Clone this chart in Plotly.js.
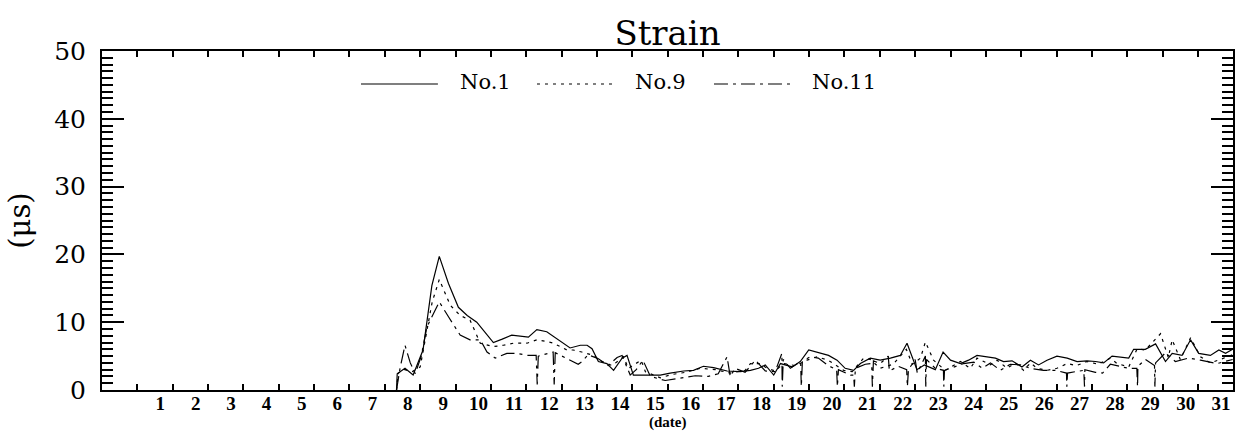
<!DOCTYPE html>
<html>
<head>
<meta charset="utf-8">
<script src="https://cdn.plot.ly/plotly-3.0.1.min.js"></script>
<style>html,body{margin:0;padding:0;background:#fff;}#chart{width:1237px;height:439px;}</style>
</head>
<body>
<div id="chart"></div>
<script>
// ---- data ----
const dayTicks = [1,2,3,4,5,6,7,8,9,10,11,12,13,14,15,16,17,18,19,20,21,22,23,24,25,26,27,28,29,30,31];
const dayLabels = ['1','2','3','4','5','6','7','8','9','10','11','12','13','14','15','16','17','18','19','20','21','22','23','24','25','26','27','28','29','30','31'];
const strainTicks = [0,10,20,30,40,50];
const strainLabels = ['0','10','20','30','40','50'];

const no1Date = [8.33,8.35,8.57,8.80,9.08,9.33,9.54,9.80,10.08,10.33,
  10.60,11.07,11.32,11.59,12.06,12.30,12.58,12.90,13.24,13.53,
  13.72,13.86,14.04,14.28,14.47,14.71,14.85,15.03,15.32,15.79,
  16.07,16.45,16.73,17.01,17.30,17.68,18.05,18.34,18.57,18.76,
  19.00,19.19,19.52,19.75,19.99,20.32,20.55,20.79,21.02,21.26,
  21.45,21.73,22.01,22.30,22.58,22.77,23.05,23.26,23.57,23.79,
  24.00,24.28,24.51,24.75,25.03,25.27,25.50,25.74,26.02,26.26,
  26.49,26.73,27.01,27.30,27.58,27.86,28.10,28.33,28.57,28.85,
  29.04,29.18,29.51,29.80,30.08,30.27,30.55,30.79,31.02,31.35,
  31.59,31.78,31.98];
const no1Strain = [0,2.4,3.2,2.2,5.9,15.4,19.7,15.7,12.2,11.0,
  10.0,7.0,7.5,8.1,7.8,8.9,8.6,7.4,6.2,6.6,
  6.6,6.1,4.2,3.9,2.9,4.7,5.1,2.2,2.2,2.2,
  2.5,2.8,2.9,3.5,3.3,2.8,2.7,2.9,3.2,3.7,
  2.2,3.9,3.4,4.2,5.9,5.4,5.1,4.4,3.2,2.9,
  3.9,4.7,4.4,4.7,5.1,6.9,3.0,3.7,3.0,5.6,
  4.4,3.9,4.4,5.1,4.9,4.7,4.2,4.3,3.4,4.4,
  3.7,4.4,5.0,4.7,4.2,4.3,4.2,4.0,5.0,4.8,
  4.7,6.0,6.0,6.8,4.2,5.4,5.1,7.4,5.4,5.1,
  5.9,5.4,6.0];

const no9Date = [8.33,8.38,8.57,8.77,9.00,9.17,9.34,9.54,9.85,10.13,
  10.41,10.70,11.07,11.35,11.64,12.02,12.30,12.54,12.77,13.15,
  13.33,13.57,13.90,14.14,14.43,14.75,14.89,15.25,15.37,15.79,
  16.13,16.50,16.92,17.35,17.77,18.19,18.34,18.62,18.81,19.04,
  19.27,19.61,19.94,20.22,20.54,20.98,21.22,21.54,21.73,22.01,
  22.38,22.75,22.92,23.15,23.29,23.52,23.85,24.28,24.56,24.75,
  25.13,25.32,25.60,25.83,26.07,26.26,26.45,26.73,27.01,27.30,
  27.56,27.86,28.18,28.52,28.71,29.04,29.28,29.51,29.94,30.16,
  30.27,30.50,30.79,31.07,31.35,31.63,31.98];
const no9Strain = [0,2.5,3.0,2.7,3.4,8.0,13.0,16.3,12.5,11.0,
  10.3,6.9,6.4,6.6,6.9,6.9,7.4,7.2,6.9,5.9,
  5.9,5.6,5.1,4.2,3.6,4.9,3.2,4.4,2.7,1.8,
  2.3,2.6,3.2,3.0,2.5,2.9,3.9,3.9,3.2,2.8,
  3.9,3.6,4.4,4.9,4.4,2.9,2.7,4.7,4.5,3.2,
  3.8,6.0,3.8,4.7,7.1,4.4,2.9,4.2,3.2,4.7,
  3.7,4.4,3.2,4.0,2.9,4.0,3.2,2.9,3.2,3.9,
  3.6,4.2,3.8,4.7,3.9,3.4,6.1,5.9,8.3,4.8,
  7.4,4.5,7.7,4.9,4.0,4.5,5.2];

const no11Date = [8.33,8.43,8.57,8.72,8.86,9.03,9.19,9.54,9.80,10.13,
  10.41,10.70,10.89,11.12,11.45,11.73,12.06,12.28,12.31,12.34,
  12.76,12.79,12.82,13.05,13.30,13.47,13.58,13.75,14.04,14.32,
  14.57,14.71,14.94,15.11,15.30,15.51,15.93,16.36,16.78,17.15,
  17.43,17.68,17.77,17.91,18.19,18.48,18.76,19.04,19.23,19.24,
  19.27,19.47,19.76,19.78,19.81,20.03,20.26,20.54,20.78,20.80,
  20.83,21.17,21.26,21.28,21.31,21.59,21.77,21.79,21.82,22.01,
  22.24,22.27,22.52,22.76,22.78,22.81,23.00,23.06,23.29,23.30,
  23.32,23.57,23.80,23.81,23.83,24.05,24.37,24.66,24.90,25.13,
  25.41,25.69,25.98,26.26,26.63,26.97,27.28,27.29,27.31,27.53,
  27.77,27.79,27.80,28.10,28.30,28.52,28.75,29.03,29.27,29.29,
  29.30,29.51,29.77,29.78,29.80,30.08,30.36,30.73,31.07,31.54,
  31.98];
const no11Strain = [0,3.2,6.6,4.0,2.4,5.0,9.3,13.0,10.8,8.1,
  7.4,7.4,5.6,4.7,5.4,5.4,5.1,5.1,0.8,5.0,
  5.6,0.8,5.5,4.9,4.2,3.8,4.2,5.2,4.6,3.6,
  4.8,5.1,2.2,3.0,4.4,2.0,1.4,1.7,2.1,2.0,
  2.4,4.9,2.0,3.2,2.6,4.4,2.8,2.7,5.4,0.5,
  4.5,3.2,4.2,0.5,4.2,4.9,4.7,3.6,3.0,0.5,
  3.0,2.2,2.2,0.5,3.2,3.8,3.9,0.5,4.3,3.9,
  5.0,2.8,3.5,3.0,0.5,3.0,4.5,2.5,5.0,0.5,
  4.5,3.2,2.9,0.5,2.9,3.3,3.9,4.1,3.2,4.0,
  2.9,3.8,3.7,3.2,2.9,2.9,2.5,0.5,2.5,2.7,
  2.9,0.5,3.0,2.6,2.5,3.8,3.5,3.2,3.2,0.5,
  3.5,4.5,3.6,0.5,4.0,5.5,4.2,4.7,4.4,3.9,
  4.5];

const seriesNames = ['No.1','No.9','No.11'];

// ---- chart ----
const black = '#000';
const serif = 'DejaVu Serif';
const dashes = ['solid','3px,5px','14px,5px,3px,5px'];

const traces = [
  {x: no1Date, y: no1Strain, name: seriesNames[0], type:'scatter', mode:'lines',
   line:{color:black, width:1.2, dash:dashes[0]}},
  {x: no9Date, y: no9Strain, name: seriesNames[1], type:'scatter', mode:'lines',
   line:{color:black, width:1.2, dash:dashes[1]}},
  {x: no11Date, y: no11Strain, name: seriesNames[2], type:'scatter', mode:'lines',
   line:{color:black, width:1.2, dash:dashes[2]}}
];

// key drawn like the reference: long line sample followed by the label
const keyLines = [[0.229,0.297],[0.3846,0.4527],[0.5411,0.6083]];
const keyText = [0.3148,0.4695,0.626];
const shapes = keyLines.map((k,i)=>({type:'line', xref:'paper', yref:'paper',
  x0:k[0], x1:k[1], y0:0.9027, y1:0.9027, line:{color:black, width:1.2, dash:dashes[i]}}));
const annotations = seriesNames.map((n,i)=>({text:n, xref:'paper', yref:'paper',
  x:keyText[i], y:0.9086, xanchor:'left', yanchor:'middle', showarrow:false,
  font:{family:serif, size:21, color:black}}));
// x axis caption, placed just under the day labels as in the reference
annotations.push({text:'(date)', xref:'paper', yref:'paper', x:0.5, y:-0.0965,
  xanchor:'center', yanchor:'middle', showarrow:false,
  font:{family:'Liberation Serif', size:15, weight:700, color:black}});

const layout = {
  width:1237, height:439,
  margin:{l:102, r:4, t:51, b:49, pad:0},
  paper_bgcolor:'#fff', plot_bgcolor:'#fff',
  showlegend:false,
  title:{text:'Strain', font:{family:serif, size:34, color:black},
    x:0.5, xref:'paper', xanchor:'center', y:0.925, yref:'container', yanchor:'middle'},
  xaxis:{range:[0,31.99], tickmode:'array', tickvals:dayTicks, ticktext:dayLabels,
    ticks:'inside', ticklen:6, tickwidth:2, tickcolor:black,
    showline:true, linewidth:2, linecolor:black, mirror:'allticks',
    showgrid:false, zeroline:false, ticklabelshift:23, ticklabelstandoff:-5,
    tickfont:{family:'Liberation Serif', size:19, weight:700, color:black}},
  yaxis:{range:[0,50], tickmode:'array', tickvals:strainTicks, ticktext:strainLabels,
    ticks:'inside', ticklen:22, tickwidth:2, tickcolor:black,
    minor:{dtick:1, ticks:'inside', ticklen:11, tickwidth:2, tickcolor:black, showgrid:false},
    showline:true, linewidth:2, linecolor:black, mirror:'allticks',
    showgrid:false, zeroline:false, ticklabelstandoff:9,
    tickfont:{family:serif, size:25, color:black},
    title:{text:'(μs)', font:{family:serif, size:29, color:black}, standoff:15}},
  shapes:shapes, annotations:annotations
};

Plotly.newPlot('chart', traces, layout, {staticPlot:true, displayModeBar:false});
</script>
</body>
</html>
